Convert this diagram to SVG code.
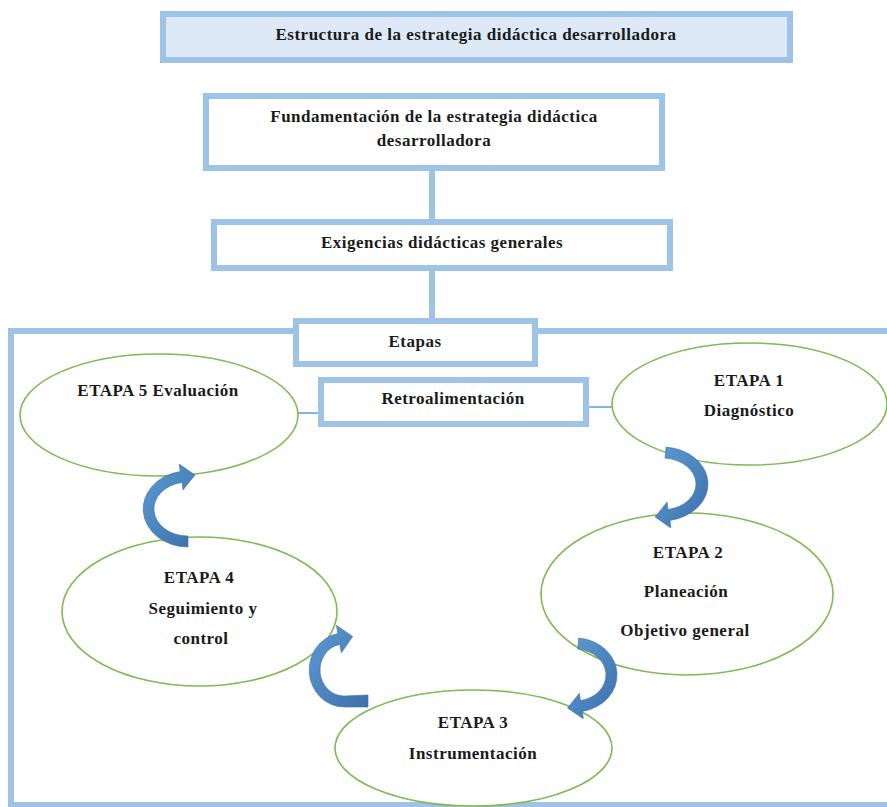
<svg xmlns="http://www.w3.org/2000/svg" width="887" height="807" viewBox="0 0 887 807">
<style>
.box{fill:#ffffff;stroke:#9dc3e6;stroke-width:6}
.title{fill:#dde9f6}
.ell{fill:#ffffff;stroke:#7fba52;stroke-width:1.6}
.conn{stroke:#9dc3e6;stroke-width:6;fill:none}
.thin{stroke:#5b9bd5;stroke-width:1.5;fill:none}
.arrow{fill:url(#ag);stroke:#41719c;stroke-width:0.6}
text{font-family:"Liberation Serif","Times New Roman",serif;font-weight:bold;font-size:17px;letter-spacing:0.5px;fill:#1a1a1a;text-anchor:middle}
</style>
<defs>
<linearGradient id="ag" x1="0" y1="0" x2="1" y2="1">
<stop offset="0" stop-color="#5b9bd5"/>
<stop offset="1" stop-color="#3d70ab"/>
</linearGradient>
</defs>
<rect width="887" height="807" fill="#ffffff"/>
<g id="connectors">
<line class="conn" x1="432" y1="171" x2="432" y2="219"/>
<line class="conn" x1="432" y1="271" x2="432" y2="318"/>
<rect class="conn" x="11" y="331" width="890" height="474"/>
<line class="thin" x1="298" y1="413" x2="318" y2="413"/>
<line class="thin" x1="589" y1="407" x2="612" y2="407"/>
</g>
<g id="title">
<rect class="box title" x="163" y="14" width="627" height="46"/>
<text x="476" y="40">Estructura de la estrategia didáctica desarrolladora</text>
</g>
<g id="fundamentacion">
<rect class="box" x="206" y="96" width="456" height="72"/>
<text x="434" y="122">Fundamentación de la estrategia didáctica</text>
<text x="434" y="146">desarrolladora</text>
</g>
<g id="exigencias">
<rect class="box" x="214" y="222" width="456" height="46"/>
<text x="442" y="248">Exigencias didácticas generales</text>
</g>
<g id="etapas">
<rect class="box" x="296" y="321" width="239" height="43"/>
<text x="415" y="347">Etapas</text>
</g>
<g id="retroalimentacion">
<rect class="box" x="321" y="380" width="265" height="44"/>
<text x="453" y="404">Retroalimentación</text>
</g>
<g id="etapa5">
<ellipse class="ell" cx="159" cy="415" rx="139" ry="61"/>
<text x="158" y="396">ETAPA 5 Evaluación</text>
</g>
<g id="etapa1">
<ellipse class="ell" cx="749.5" cy="404" rx="137.5" ry="61"/>
<text x="749" y="386">ETAPA 1</text>
<text x="749" y="416">Diagnóstico</text>
</g>
<g id="etapa2">
<ellipse class="ell" cx="687" cy="594" rx="146" ry="81"/>
<text x="688" y="558">ETAPA 2</text>
<text x="686" y="597">Planeación</text>
<text x="685" y="636">Objetivo general</text>
</g>
<g id="etapa4">
<ellipse class="ell" cx="199.5" cy="611.5" rx="137.5" ry="74.5"/>
<text x="199" y="583">ETAPA 4</text>
<text x="203" y="614">Seguimiento y</text>
<text x="201" y="644">control</text>
</g>
<g id="etapa3">
<ellipse class="ell" cx="473.5" cy="748" rx="138.5" ry="58"/>
<text x="473" y="728">ETAPA 3</text>
<text x="473" y="759">Instrumentación</text>
</g>
<g id="cycle-arrows">
<path class="arrow" d="M 666 447.1 A 46 37 0 0 1 670 520.4 L 670.8 527.9 L 655.1 517 L 667.1 502.1 L 667.9 509.6 A 34 26 0 0 0 665 458.1 Z"/>
<path class="arrow" d="M 578.7 638.1 A 42 37 0 0 1 582.3 711.4 L 583.3 718.8 L 567.5 708.1 L 579.4 693.2 L 580.4 700.6 A 31 26 0 0 0 577.7 649.1 Z"/>
<path class="arrow" d="M 368 707 L 344 707 A 35 37 0 0 1 337.9 633.6 L 336.4 625.3 L 352.6 636.5 L 341.4 652.7 L 339.8 644.4 A 24 26 0 0 0 344 696 L 368 695 Z"/>
<path class="arrow" d="M 188 547 A 45 38 0 0 1 180.2 471.6 L 179.2 464.1 L 195 475 L 183 489.9 L 182.1 482.4 A 34 27 0 0 0 188 536 Z"/>
</g>
</svg>
